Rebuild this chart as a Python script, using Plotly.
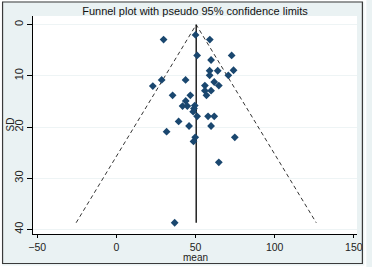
import numpy as np
import plotly.graph_objects as go

# Data
mean_vals = [29.8, 50.0, 59.0, 51.0, 72.8, 59.8, 58.9, 64.0, 74.0, 58.9,
             70.7, 28.6, 43.7, 61.8, 23.0, 55.9, 64.7, 55.9, 59.8, 35.5,
             46.7, 56.9, 43.8, 41.8, 44.8, 49.5, 49.0, 48.5, 51.0, 57.9,
             61.8, 39.3, 45.9, 59.8, 31.7, 49.8, 48.7, 74.8, 64.7, 36.8]
sd_vals = [2.9, 2.0, 2.9, 6.0, 6.0, 6.9, 9.0, 9.0, 8.9, 9.9,
           9.9, 10.8, 10.8, 11.2, 12.0, 11.9, 11.9, 12.9, 12.9, 13.8,
           13.8, 13.8, 14.9, 15.9, 15.9, 15.8, 16.4, 17.0, 17.9, 17.9,
           17.9, 18.9, 19.8, 19.8, 20.9, 22.0, 22.8, 22.0, 26.9, 38.7]
pooled = 50.4
x_ticks = [-50, 0, 50, 100, 150]
y_ticks = [0, 10, 20, 30, 40]
title_text = "Funnel plot with pseudo 95% confidence limits"
x_title = "mean"
y_title = "SD"

max_sd = max(sd_vals)
lo = pooled - 1.96 * max_sd
hi = pooled + 1.96 * max_sd

fig = go.Figure()
fig.add_trace(go.Scatter(x=[lo, pooled, hi], y=[max_sd, 0, max_sd], mode="lines",
                         line=dict(color="black", width=0.8, dash="4px,3px"),
                         hoverinfo="skip", showlegend=False))
fig.add_trace(go.Scatter(x=[pooled, pooled], y=[0, max_sd], mode="lines",
                         line=dict(color="black", width=1.3),
                         hoverinfo="skip", showlegend=False))
fig.add_trace(go.Scatter(x=mean_vals, y=sd_vals, mode="markers",
                         marker=dict(symbol="diamond", size=6, color="#1a476f"),
                         showlegend=False))

W, H = 372, 267
L, R, T, B = 33, 9, 16, 33
pw, ph = W - L - R, H - T - B

def px(x):
    return (x - L) / pw

def py(y):
    return (H - B - y) / ph

fig.update_layout(
    width=W, height=H,
    margin=dict(l=L, r=R, t=T, b=B),
    paper_bgcolor="#eaf2f3",
    plot_bgcolor="white",
    font=dict(family="Liberation Sans, Arial, sans-serif", size=11, color="#222222"),
    title=dict(text=title_text, x=0.5, xref="paper", y=1 - 11.5 / H, yanchor="middle",
               font=dict(size=11, color="#111111")),
    showlegend=False,
    annotations=[
        dict(text=x_title, xref="paper", yref="paper", x=px(198), y=py(257.5),
             xanchor="center", yanchor="middle", showarrow=False,
             font=dict(size=10, color="#222222")),
        dict(text=y_title, xref="paper", yref="paper", x=px(10), y=py(124),
             xanchor="center", yanchor="middle", showarrow=False, textangle=-90,
             font=dict(size=10, color="#222222")),
    ],
    shapes=[
        dict(type="rect", xref="paper", yref="paper",
             x0=px(0.5), x1=px(W - 0.5), y0=py(H - 0.5), y1=py(0.5),
             line=dict(color="white", width=2), fillcolor="rgba(0,0,0,0)", layer="above"),
        dict(type="rect", xref="paper", yref="paper",
             x0=px(2), x1=px(368.5), y0=py(263.5), y1=py(2),
             line=dict(color="#3a3a3a", width=1.2), fillcolor="rgba(0,0,0,0)", layer="above"),
    ],
)
fig.update_xaxes(range=[-52.7, 152.0], tickvals=x_ticks, ticks="outside", ticklen=3,
                 tickcolor="black", showline=True, linecolor="black", linewidth=1,
                 showgrid=False, zeroline=False, tickfont=dict(size=10.5))
fig.update_yaxes(range=[40.9, -1.7], tickvals=y_ticks, ticks="outside", ticklen=5,
                 tickcolor="black", showline=True, linecolor="black", linewidth=1,
                 showgrid=True, gridcolor="#eef4f5", gridwidth=1, zeroline=False,
                 tickangle=-90, tickfont=dict(size=11))

fig.write_html("out.html", config={"displayModeBar": False},
               post_script="document.body.style.margin='0';document.body.style.overflow='hidden';")
